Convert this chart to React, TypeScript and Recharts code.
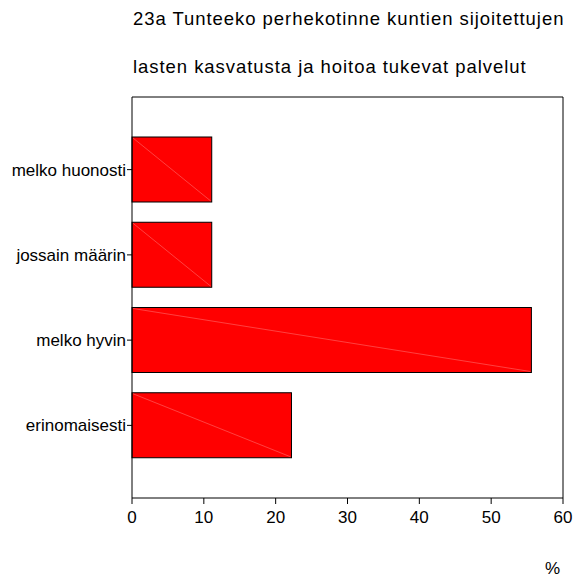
import React from 'react'
import { BarChart, Bar, XAxis, YAxis, CartesianGrid } from 'recharts'

const categories = ['melko huonosti', 'jossain määrin', 'melko hyvin', 'erinomaisesti']
const percents = [11.1, 11.1, 55.6, 22.2]
const xTicks = [0, 10, 20, 30, 40, 50, 60]
const titleLines = [
  '23a Tunteeko perhekotinne kuntien sijoitettujen',
  'lasten kasvatusta ja hoitoa tukevat palvelut',
]

const data = categories.map((name, i) => ({ name, value: percents[i] }))

const FONT = '"Liberation Sans", Arial, sans-serif'

// red bar with the faint corner-to-corner line seen in the original
const BarShape = (props: any) => {
  const { x, y, width, height } = props
  if (!width || !height) return null
  return (
    <g>
      <rect x={x} y={y} width={width} height={height} fill="#ff0000" stroke="#000" strokeWidth={1} />
      <line x1={x + 1} y1={y + 1} x2={x + width - 1} y2={y + height - 1} stroke="#ff8080" strokeWidth={0.5} />
    </g>
  )
}

export default function App() {
  const tickStyle = { fontSize: 17, fill: '#000', fontFamily: FONT }
  return (
    <div style={{ position: 'absolute', left: 0, top: 0, width: 573, height: 578, background: '#fff' }}>
      {titleLines.map((t, i) => (
        <div
          key={i}
          style={{
            position: 'absolute',
            left: 133,
            top: 10 + i * 48,
            fontFamily: FONT,
            fontSize: 18.5,
            lineHeight: '18px',
            letterSpacing: '0.95px',
            whiteSpace: 'nowrap',
            color: '#000',
          }}
        >
          {t}
        </div>
      ))}
      <BarChart
        width={573}
        height={578}
        data={data}
        layout="vertical"
        margin={{ top: 97, right: 10, bottom: 0, left: 0 }}
      >
        {/* top and right frame lines */}
        <CartesianGrid
          stroke="#000"
          strokeWidth={1}
          horizontalCoordinatesGenerator={({ offset }: any) => [offset.top]}
          verticalCoordinatesGenerator={({ offset }: any) => [offset.left + offset.width]}
        />
        <XAxis
          type="number"
          domain={[0, 60]}
          ticks={xTicks}
          interval={0}
          height={80}
          tickSize={6}
          tickMargin={7}
          stroke="#000"
          tick={tickStyle}
          axisLine={{ stroke: '#000', strokeWidth: 1 }}
          tickLine={{ stroke: '#000' }}
        />
        <YAxis
          type="category"
          dataKey="name"
          width={132}
          padding={{ top: 30, bottom: 30 }}
          tickSize={5}
          tickMargin={1}
          tick={tickStyle}
          axisLine={{ stroke: '#000', strokeWidth: 1 }}
          tickLine={{ stroke: '#000' }}
        />
        <Bar dataKey="value" barSize={65} shape={BarShape} isAnimationActive={false} />
      </BarChart>
      <div
        style={{
          position: 'absolute',
          left: 545,
          top: 560,
          fontFamily: FONT,
          fontSize: 17,
          lineHeight: '17px',
          color: '#000',
        }}
      >
        %
      </div>
    </div>
  )
}
